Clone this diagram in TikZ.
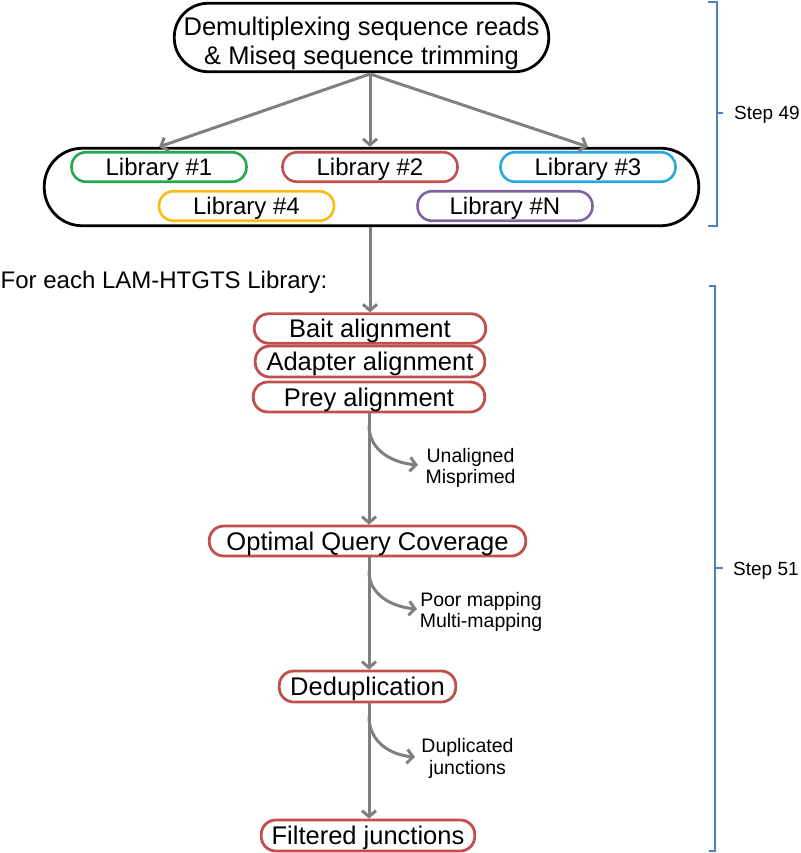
\documentclass[tikz,border=0pt]{standalone}
\usepackage{fontspec}
\setmainfont{Liberation Sans}
\usetikzlibrary{arrows.meta,calc}
\definecolor{arrgray}{RGB}{128,128,128}
\definecolor{stepred}{RGB}{192,80,77}
\definecolor{libgreen}{RGB}{35,168,78}
\definecolor{libblue}{RGB}{40,168,222}
\definecolor{libyellow}{RGB}{250,188,20}
\definecolor{libpurple}{RGB}{128,100,162}
\definecolor{brkblue}{RGB}{79,129,189}
\begin{document}
\begin{tikzpicture}[x=1pt,y=-1pt,
  stepbox/.style={draw=stepred, line width=2.8pt, rounded corners=14.5pt, minimum height=29.5pt, inner sep=0pt,
    font=\fontsize{25.5}{29}\selectfont, text height=18.3pt, text depth=0pt},
  libbox/.style={line width=2.6pt, rounded corners=14.5pt, minimum width=175pt, minimum height=29.5pt, inner sep=0pt,
    font=\fontsize{24}{28}\selectfont, text height=17.2pt, text depth=0pt},
  arr/.style={draw=arrgray, line width=3pt, -{Straight Barb[length=6pt,width=14pt]}},
  brk/.style={draw=brkblue, line width=2pt},
  smalltxt/.style={font=\fontsize{19.5}{21.5}\selectfont, align=center, inner sep=0pt, anchor=base},
  steptxt/.style={font=\fontsize{19}{22}\selectfont, inner sep=0pt, anchor=base west}
]
\useasboundingbox (0,0) rectangle (800,853);

% top box
\node[draw=black, line width=2.8pt, rounded corners=34pt, minimum width=374.5pt, minimum height=68.5pt, inner sep=0pt,
  align=center, font=\fontsize{25.5}{29}\selectfont, text height=53.3pt, text depth=0pt]
  (top) at (361.5,37.5) {Demultiplexing sequence reads\\ \& Miseq sequence trimming};

% libraries container
\node[draw=black, line width=2.8pt, rounded corners=38pt, minimum width=654.5pt, minimum height=77.5pt, inner sep=0pt]
  (big) at (371.5,187) {};

\node[libbox, draw=libgreen]  (lib1) at (159,167) {Library \#1};
\node[libbox, draw=stepred]   (lib2) at (370,167) {Library \#2};
\node[libbox, draw=libblue]   (lib3) at (588,167) {Library \#3};
\node[libbox, draw=libyellow] (lib4) at (246.5,206) {Library \#4};
\node[libbox, draw=libpurple] (libN) at (505,206) {Library \#N};

\coordinate (split) at (370,74);
\draw[arr] (split) -- (big.north -| lib1);
\draw[arr] (split) -- (big.north -| lib2);
\draw[arr] (split) -- (big.north -| lib3);

% text
\node[font=\fontsize{24}{28}\selectfont, inner sep=0pt, anchor=base west] (foreach) at (0.5,288) {For each LAM-HTGTS Library:};

% step boxes
\node[stepbox, minimum width=231.5pt] (bait) at (370,328.5) {Bait alignment};
\node[stepbox, minimum width=229.5pt, minimum height=31pt] (adapt) at (370,361.5) {Adapter alignment};
\node[stepbox, minimum width=231.5pt, minimum height=30pt] (prey) at (369,397) {Prey alignment};
\node[stepbox, minimum width=316.5pt, minimum height=30pt] (opt) at (367.5,541) {Optimal Query Coverage};
\node[stepbox, minimum width=176.5pt, minimum height=31pt] (dedup) at (367.5,686.5) {Deduplication};
\node[stepbox, minimum width=213.5pt, minimum height=31pt] (filt) at (368,835.5) {Filtered junctions};

\draw[arr] (bait.north |- big.south) -- (bait.north);
\draw[arr] (prey.south) -- (prey.south |- opt.north);
\draw[arr] (opt.south -| prey.south) -- (prey.south |- dedup.north);
\draw[arr] (dedup.south -| prey.south) -- (prey.south |- filt.north);

% branches
\coordinate (b1s) at ($(prey.south)+(0,12)$);
\coordinate (b1e) at (418,465);
\draw[arr] (b1s) .. controls ($(b1s)+(0,26)$) and ($(b1e)+(-24,-2)$) .. (b1e);
\node[smalltxt] (lab1) at (470.5,483.5) {Unaligned\\Misprimed};

\coordinate (b2s) at ($(opt.south -| prey.south)+(0,14)$);
\coordinate (b2e) at (417,609);
\draw[arr] (b2s) .. controls ($(b2s)+(0,24)$) and ($(b2e)+(-24,-2)$) .. (b2e);
\node[smalltxt] (lab2) at (481,627.5) {Poor mapping\\Multi-mapping};

\coordinate (b3s) at ($(dedup.south -| prey.south)+(0,13)$);
\coordinate (b3e) at (415,757);
\draw[arr] (b3s) .. controls ($(b3s)+(0,26)$) and ($(b3e)+(-24,-2)$) .. (b3e);
\node[smalltxt] (lab3) at (467.5,774) {Duplicated\\junctions};

% brackets
\draw[brk] (708,2) -- (717,2) -- (717,226) -- (708,226);
\draw[brk] (717,113) -- (723,113);
\node[steptxt] (s49) at (734,120) {Step 49};
\draw[brk] (709,286) -- (715,286) -- (715,851) -- (709,851);
\draw[brk] (715,568) -- (723,568);
\node[steptxt] (s51) at (733,575) {Step 51};
\end{tikzpicture}
\end{document}
